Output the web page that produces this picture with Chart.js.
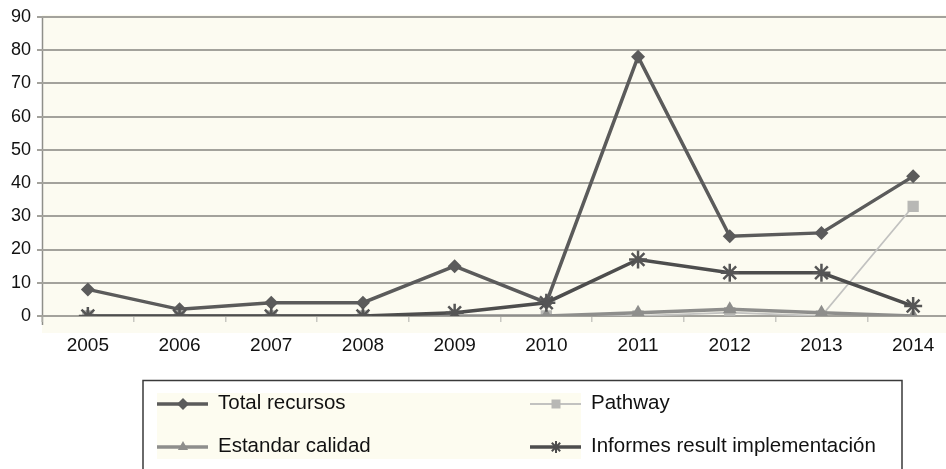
<!DOCTYPE html>
<html>
<head>
<meta charset="utf-8">
<script src="https://cdn.jsdelivr.net/npm/chart.js@4.4.1/dist/chart.umd.min.js"></script>
<style>
  html, body { margin: 0; padding: 0; background: #ffffff; overflow: hidden; }
  #wrap { position: relative; width: 960px; height: 469px; }
</style>
</head>
<body>
<div id="wrap"><canvas id="chart" width="960" height="469"></canvas></div>
<script>
// Years on the horizontal axis
const years = ['2005', '2006', '2007', '2008', '2009', '2010', '2011', '2012', '2013', '2014'];

// Series values per year
const totalRecursos = [8, 2, 4, 4, 15, 4, 78, 24, 25, 42];
const pathway = [0, 0, 0, 0, 0, 0, 0, 1, 0, 33];
const estandarCalidad = [0, 0, 0, 0, 0, 0, 1, 2, 1, 0];
const informesResult = [0, 0, 0, 0, 1, 4, 17, 13, 13, 3];

// Vertical axis ticks
const yTicks = [0, 10, 20, 30, 40, 50, 60, 70, 80, 90];

const FONT = '"Liberation Sans", Arial, Helvetica, sans-serif';

// Cream plot background that runs a little below the zero line
const plotBackground = {
  id: 'plotBackground',
  beforeDraw(chart) {
    const { ctx, chartArea } = chart;
    const y0 = chart.scales.y.getPixelForValue(0);
    ctx.save();
    ctx.fillStyle = '#fcfbf1';
    ctx.fillRect(chartArea.left, chartArea.top - 2, chartArea.right - chartArea.left, y0 - chartArea.top + 19);
    // vertical axis line, extended slightly below zero
    ctx.strokeStyle = '#8f8f8a';
    ctx.lineWidth = 1.5;
    ctx.beginPath();
    ctx.moveTo(chartArea.left + 0.5, chartArea.top);
    ctx.lineTo(chartArea.left + 0.5, y0 + 9);
    ctx.stroke();
    ctx.restore();
  }
};

function drawMarker(ctx, style, x, y, r, color) {
  ctx.save();
  ctx.fillStyle = color;
  ctx.strokeStyle = color;
  ctx.lineWidth = 2;
  ctx.beginPath();
  if (style === 'rectRot') {
    ctx.moveTo(x, y - r); ctx.lineTo(x + r, y); ctx.lineTo(x, y + r); ctx.lineTo(x - r, y); ctx.closePath();
    ctx.fill();
  } else if (style === 'rect') {
    ctx.rect(x - r * 0.75, y - r * 0.75, r * 1.5, r * 1.5);
    ctx.fill();
  } else if (style === 'triangle') {
    ctx.moveTo(x, y - r); ctx.lineTo(x + r * 0.85, y + r * 0.5); ctx.lineTo(x - r * 0.85, y + r * 0.5); ctx.closePath();
    ctx.fill();
  } else {
    const d = r * 0.7;
    ctx.moveTo(x - d, y - d); ctx.lineTo(x + d, y + d);
    ctx.moveTo(x + d, y - d); ctx.lineTo(x - d, y + d);
    ctx.moveTo(x, y - r); ctx.lineTo(x, y + r);
    ctx.stroke();
  }
  ctx.restore();
}

// Boxed legend in two columns below the plot
const boxLegend = {
  id: 'boxLegend',
  afterDraw(chart) {
    const { ctx } = chart;
    const ds = chart.data.datasets;
    ctx.save();
    // light panel behind the entries
    ctx.fillStyle = '#fdfcf0';
    ctx.fillRect(157, 393, 424, 66);
    // frame
    ctx.strokeStyle = '#3a3a3a';
    ctx.lineWidth = 1.5;
    ctx.beginPath();
    ctx.moveTo(143, 480); ctx.lineTo(143, 380.5); ctx.lineTo(902, 380.5); ctx.lineTo(902, 480);
    ctx.stroke();
    const slots = [
      { x: 157, y: 403 }, { x: 530, y: 403 },
      { x: 157, y: 446 }, { x: 530, y: 446 }
    ];
    ds.forEach((d, i) => {
      const s = slots[i];
      ctx.strokeStyle = d.borderColor;
      ctx.lineWidth = d.borderWidth;
      ctx.beginPath();
      ctx.moveTo(s.x, s.y + 1); ctx.lineTo(s.x + 51, s.y + 1);
      ctx.stroke();
      drawMarker(ctx, d.pointStyle, s.x + 26, s.y + 1, 6, d.pointBackgroundColor);
      ctx.fillStyle = '#111111';
      ctx.font = '20.5px ' + FONT;
      ctx.textBaseline = 'middle';
      ctx.textAlign = 'left';
      ctx.fillText(d.label, s.x + 61, s.y);
    });
    ctx.restore();
  }
};

new Chart(document.getElementById('chart'), {
  type: 'line',
  data: {
    labels: years,
    datasets: [
      {
        label: 'Total recursos', data: totalRecursos, order: 4,
        borderColor: '#5b5b5b', backgroundColor: '#5b5b5b', pointBackgroundColor: '#5b5b5b',
        borderWidth: 3.5, pointStyle: 'rectRot', pointRadius: 7, pointBorderWidth: 0
      },
      {
        label: 'Pathway', data: pathway, order: 3,
        borderColor: '#c2c2c0', backgroundColor: '#c2c2c0', pointBackgroundColor: '#b8b8b5',
        borderWidth: 1.8, pointStyle: 'rect', pointRadius: 8, pointBorderWidth: 0
      },
      {
        label: 'Estandar calidad', data: estandarCalidad, order: 2,
        borderColor: '#8e8e8c', backgroundColor: '#8e8e8c', pointBackgroundColor: '#8e8e8c',
        borderWidth: 3.5, pointStyle: 'triangle', pointRadius: 8, pointBorderWidth: 0
      },
      {
        label: 'Informes result implementación', data: informesResult, order: 1,
        borderColor: '#4d4d4d', backgroundColor: '#4d4d4d', pointBackgroundColor: '#4d4d4d',
        pointBorderColor: '#555555',
        borderWidth: 3.5, pointStyle: 'star', pointRadius: 9, pointBorderWidth: 2.5
      }
    ]
  },
  options: {
    responsive: false,
    animation: false,
    events: [],
    layout: { autoPadding: false, padding: { top: 16, right: 1, bottom: 113, left: 0 } },
    plugins: { legend: { display: false }, tooltip: { enabled: false } },
    elements: { line: { tension: 0 } },
    scales: {
      x: {
        offset: true,
        grid: { drawOnChartArea: false, drawTicks: true, tickLength: 6, color: '#c8c8c2', lineWidth: 1.5, offset: true },
        border: { display: false },
        ticks: { color: '#111111', font: { family: FONT, size: 19 }, padding: 12, maxRotation: 0 },
        afterFit(scale) {
          scale.height = 40;
          scale.paddingLeft = 0;
          scale.paddingRight = 0;
        }
      },
      y: {
        min: 0, max: 90,
        afterBuildTicks(scale) { scale.ticks = yTicks.map(v => ({ value: v })); },
        grid: { color: '#a3a29c', lineWidth: 2, tickLength: 5, drawTicks: true },
        border: { display: false },
        ticks: { color: '#111111', font: { family: FONT, size: 18 }, padding: 6 },
        afterFit(scale) { scale.width = 42; }
      }
    }
  },
  plugins: [plotBackground, boxLegend]
});
</script>
</body>
</html>
